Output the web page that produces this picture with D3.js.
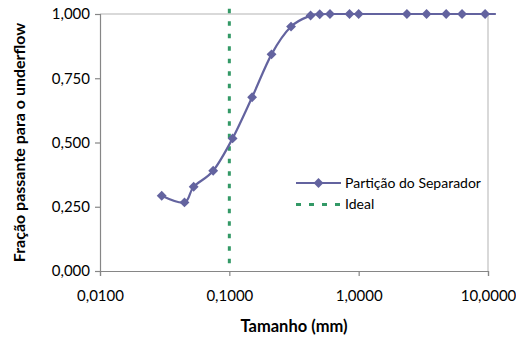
<!DOCTYPE html>
<html>
<head>
<meta charset="utf-8">
<script src="https://cdn.jsdelivr.net/npm/d3@7"></script>
<style>
    body { margin: 0; background: #ffffff; }
    svg { display: block; font-family: Lato, "Open Sans", sans-serif; }
</style>
</head>
<body>
<div id="chart"></div>
<script>
// particle size (mm) and fraction going to underflow
const sizes = [0.030, 0.045, 0.053, 0.075, 0.106, 0.150, 0.212, 0.300, 0.425, 0.500,
    0.600, 0.850, 1.000, 2.36, 3.35, 4.75, 6.30, 9.50, 11.5];
const fractions = [0.293, 0.267, 0.328, 0.390, 0.516, 0.676, 0.843, 0.951, 0.994, 0.999,
    1.000, 1.000, 1.000, 1.000, 1.000, 1.000, 1.000, 1.000, 1.000];
const idealSizes = [0.1, 0.1];
const idealFractions = [1.02, 0.0];
const xTicks = [0.01, 0.1, 1, 10];
const yTicks = [0, 0.25, 0.5, 0.75, 1];
const seriesNames = ["Partição do Separador", "Ideal"];

const width = 516;
const height = 337;
const margin = {top: 14, right: 28, bottom: 66, left: 100};
const seriesColor = "#63639f";
const idealColor = "#339966";

const ptBr = d3.formatLocale({decimal: ",", thousands: ".", grouping: [3], currency: ["R$", ""]});
const fmtY = ptBr.format(".3f");
const fmtX = ptBr.format(".4f");

let svg = d3.select("#chart").append("svg")
    .attr("width", width)
    .attr("height", height);

let x = d3.scaleLog()
    .domain([0.01, 10])
    .range([margin.left, width - margin.right]);

let y = d3.scaleLinear()
    .domain([0, 1])
    .range([height - margin.bottom, margin.top]);

// plot area border (top / right)
svg.append("path")
    .attr("d", `M${x(0.01)},${y(1)}H${x(10)}V${y(0)}`)
    .attr("fill", "none")
    .attr("stroke", "#b3b3b3")
    .attr("stroke-width", 1);

let yAxis = svg.append("g")
    .attr("transform", `translate(${margin.left},0)`)
    .call(d3.axisLeft(y).tickValues(yTicks).tickFormat(fmtY).tickSize(5).tickPadding(5));

let xAxis = svg.append("g")
    .attr("transform", `translate(0,${height - margin.bottom})`)
    .call(d3.axisBottom(x).tickValues(xTicks).tickFormat(fmtX).tickSize(5).tickPadding(14));

[yAxis, xAxis].forEach(g => {
    g.select(".domain").attr("stroke", "#868686").attr("stroke-width", 1.2);
    g.selectAll(".tick line").attr("stroke", "#868686").attr("stroke-width", 1.2);
    g.selectAll(".tick text")
        .style("font-size", "15px")
        .style("font-family", "Lato, sans-serif")
        .attr("fill", "#000");
});

// ideal cut line
let idealLine = d3.line()
    .x((d, i) => x(idealSizes[i]))
    .y(d => y(d));

svg.append("path")
    .datum(idealFractions)
    .attr("d", idealLine)
    .attr("fill", "none")
    .attr("stroke", idealColor)
    .attr("stroke-width", 3)
    .attr("stroke-dasharray", "4.5,8");

// separator partition curve
let partLine = d3.line()
    .x((d, i) => x(sizes[i]))
    .y(d => y(d))
    .curve(d3.curveCardinal.tension(0));

svg.append("path")
    .datum(fractions)
    .attr("d", partLine)
    .attr("fill", "none")
    .attr("stroke", seriesColor)
    .attr("stroke-width", 2.2);

let diamond = d3.symbol().type(d3.symbolDiamond2).size(62);

svg.append("g")
    .selectAll("path")
    .data(sizes.map((s, i) => ({s: s, f: fractions[i]})).filter(d => d.s <= 10))
    .enter().append("path")
    .attr("d", diamond)
    .attr("transform", d => `translate(${x(d.s)},${y(d.f)})`)
    .attr("fill", seriesColor);

// legend
let legend = svg.append("g")
    .attr("transform", "translate(296,183)");

legend.append("line")
    .attr("x1", 0).attr("x2", 45)
    .attr("stroke", seriesColor)
    .attr("stroke-width", 2.2);

legend.append("path")
    .attr("d", diamond)
    .attr("transform", "translate(22.5,0)")
    .attr("fill", seriesColor);

legend.append("line")
    .attr("x1", 0).attr("x2", 45)
    .attr("y1", 21.5).attr("y2", 21.5)
    .attr("stroke", idealColor)
    .attr("stroke-width", 3)
    .attr("stroke-dasharray", "5,8");

legend.selectAll("text")
    .data(seriesNames)
    .enter().append("text")
    .attr("x", 49)
    .attr("y", (d, i) => i * 21.5)
    .attr("dy", "0.35em")
    .style("font-size", "14px")
    .text(d => d);

// axis titles
svg.append("text")
    .attr("x", (margin.left + width - margin.right) / 2)
    .attr("y", 332)
    .attr("text-anchor", "middle")
    .style("font-size", "16.5px")
    .style("font-weight", "bold")
    .text("Tamanho (mm)");

svg.append("text")
    .attr("transform", `translate(25,${(margin.top + height - margin.bottom) / 2}) rotate(-90)`)
    .attr("text-anchor", "middle")
    .style("font-size", "16px")
    .style("font-weight", "bold")
    .text("Fração passante para o underflow");
</script>
</body>
</html>
